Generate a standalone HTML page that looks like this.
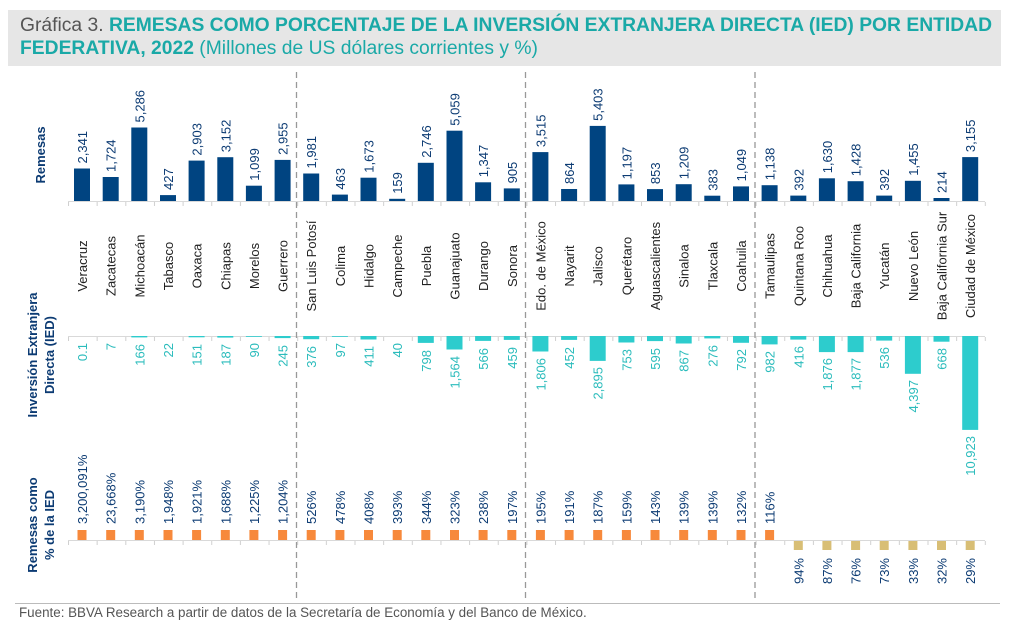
<!DOCTYPE html>
<html><head><meta charset="utf-8"><style>
body{margin:0;background:#fff;width:1024px;height:631px;overflow:hidden;font-family:"Liberation Sans",Arial,sans-serif}
.t{position:absolute;left:8px;top:10px;width:993px;height:56px;background:#e6e6e6}
.t div{position:absolute;left:12px;font-size:19.3px;line-height:22px;white-space:nowrap}
.g{color:#555}.c{color:#1aa9a7;font-weight:bold}.cl{color:#1aa9a7}
.foot{position:absolute;left:19px;top:605px;font-size:13.4px;color:#555}
svg{position:absolute;left:0;top:0}
.v{font-size:13px;fill:#0c3b73}
.n{font-size:13px;fill:#222}
.i{font-size:13px;fill:#2bbcbc}
.p{font-size:13px;fill:#0c3b73}
.ax{font-size:13px;fill:#0c3b73;font-weight:bold}
</style></head><body>
<div class="t">
<div style="top:5px"><span class="g">Gráfica 3. </span><span class="c">REMESAS COMO PORCENTAJE DE LA INVERSIÓN EXTRANJERA DIRECTA (IED) POR ENTIDAD</span></div>
<div style="top:28px"><span class="c">FEDERATIVA, 2022 </span><span class="cl">(Millones de US dólares corrientes y %)</span></div>
</div>
<svg width="1024" height="631">
<defs>
<pattern id="tk" x="68" y="0" width="28.65" height="631" patternUnits="userSpaceOnUse"><rect x="0" y="0" width="1" height="631" fill="#d0d0d0"/></pattern>
</defs>
<g stroke="#d9d9d9" stroke-width="1">
<line x1="68" y1="201.5" x2="985" y2="201.5"/>
<line x1="68" y1="336.5" x2="985" y2="336.5"/>
<line x1="68" y1="540.5" x2="985" y2="540.5"/>
<line x1="15" y1="603.5" x2="1000" y2="603.5" stroke="#bbb"/>
</g>
<rect x="67" y="202" width="920" height="4" fill="url(#tk)"/>
<rect x="67" y="337" width="920" height="4" fill="url(#tk)"/>
<rect x="67" y="541" width="920" height="4" fill="url(#tk)"/>
<g stroke="#999" stroke-width="1.3" stroke-dasharray="6,4">
<line x1="296.5" y1="72" x2="296.5" y2="600"/>
<line x1="525.5" y1="72" x2="525.5" y2="600"/>
<line x1="755" y1="72" x2="755" y2="600"/>
</g>
<text class="ax" transform="translate(45,155) rotate(-90)" text-anchor="middle">Remesas</text>
<text class="ax" transform="translate(37,355) rotate(-90)" text-anchor="middle">Inversión Extranjera</text>
<text class="ax" transform="translate(54,355) rotate(-90)" text-anchor="middle">Directa (IED)</text>
<text class="ax" transform="translate(37,525) rotate(-90)" text-anchor="middle">Remesas como</text>
<text class="ax" transform="translate(54,525) rotate(-90)" text-anchor="middle">% de la IED</text>

<g fill="#004481">
<rect x="74" y="168.5" width="16" height="32.5"/>
<rect x="102.7" y="177" width="16" height="24"/>
<rect x="131.3" y="127.5" width="16" height="73.5"/>
<rect x="160" y="195.1" width="16" height="5.9"/>
<rect x="188.6" y="160.6" width="16" height="40.4"/>
<rect x="217.3" y="157.2" width="16" height="43.8"/>
<rect x="245.9" y="185.7" width="16" height="15.3"/>
<rect x="274.6" y="159.9" width="16" height="41.1"/>
<rect x="303.2" y="173.5" width="16" height="27.5"/>
<rect x="331.9" y="194.6" width="16" height="6.4"/>
<rect x="360.5" y="177.7" width="16" height="23.3"/>
<rect x="389.2" y="198.8" width="16" height="2.2"/>
<rect x="417.8" y="162.8" width="16" height="38.2"/>
<rect x="446.5" y="130.7" width="16" height="70.3"/>
<rect x="475.1" y="182.3" width="16" height="18.7"/>
<rect x="503.8" y="188.4" width="16" height="12.6"/>
<rect x="532.4" y="152.1" width="16" height="48.9"/>
<rect x="561.1" y="189" width="16" height="12"/>
<rect x="589.7" y="125.9" width="16" height="75.1"/>
<rect x="618.4" y="184.4" width="16" height="16.6"/>
<rect x="647" y="189.1" width="16" height="11.9"/>
<rect x="675.7" y="184.2" width="16" height="16.8"/>
<rect x="704.3" y="195.7" width="16" height="5.3"/>
<rect x="733" y="186.4" width="16" height="14.6"/>
<rect x="761.6" y="185.2" width="16" height="15.8"/>
<rect x="790.3" y="195.6" width="16" height="5.4"/>
<rect x="818.9" y="178.3" width="16" height="22.7"/>
<rect x="847.6" y="181.2" width="16" height="19.8"/>
<rect x="876.2" y="195.6" width="16" height="5.4"/>
<rect x="904.9" y="180.8" width="16" height="20.2"/>
<rect x="933.5" y="198" width="16" height="3"/>
<rect x="962.2" y="157.1" width="16" height="43.9"/>
</g>
<g class="v">
<text transform="translate(87,163.5) rotate(-90)">2,341</text>
<text transform="translate(115.7,172) rotate(-90)">1,724</text>
<text transform="translate(144.3,122.5) rotate(-90)">5,286</text>
<text transform="translate(173,190) rotate(-90)">427</text>
<text transform="translate(201.6,155.6) rotate(-90)">2,903</text>
<text transform="translate(230.3,152.2) rotate(-90)">3,152</text>
<text transform="translate(258.9,180.7) rotate(-90)">1,099</text>
<text transform="translate(287.6,154.9) rotate(-90)">2,955</text>
<text transform="translate(316.2,168.5) rotate(-90)">1,981</text>
<text transform="translate(344.9,189.6) rotate(-90)">463</text>
<text transform="translate(373.5,172.7) rotate(-90)">1,673</text>
<text transform="translate(402.2,193.8) rotate(-90)">159</text>
<text transform="translate(430.8,157.8) rotate(-90)">2,746</text>
<text transform="translate(459.5,125.7) rotate(-90)">5,059</text>
<text transform="translate(488.1,177.3) rotate(-90)">1,347</text>
<text transform="translate(516.8,183.4) rotate(-90)">905</text>
<text transform="translate(545.4,147.1) rotate(-90)">3,515</text>
<text transform="translate(574.1,184) rotate(-90)">864</text>
<text transform="translate(602.7,120.9) rotate(-90)">5,403</text>
<text transform="translate(631.4,179.4) rotate(-90)">1,197</text>
<text transform="translate(660,184.1) rotate(-90)">853</text>
<text transform="translate(688.7,179.2) rotate(-90)">1,209</text>
<text transform="translate(717.3,190.7) rotate(-90)">383</text>
<text transform="translate(746,181.4) rotate(-90)">1,049</text>
<text transform="translate(774.6,180.2) rotate(-90)">1,138</text>
<text transform="translate(803.3,190.6) rotate(-90)">392</text>
<text transform="translate(831.9,173.3) rotate(-90)">1,630</text>
<text transform="translate(860.6,176.2) rotate(-90)">1,428</text>
<text transform="translate(889.2,190.6) rotate(-90)">392</text>
<text transform="translate(917.9,175.8) rotate(-90)">1,455</text>
<text transform="translate(946.5,193) rotate(-90)">214</text>
<text transform="translate(975.2,152.1) rotate(-90)">3,155</text>
</g>
<g class="n" text-anchor="middle">
<text transform="translate(87,266) rotate(-90)">Veracruz</text>
<text transform="translate(115.7,266) rotate(-90)">Zacatecas</text>
<text transform="translate(144.3,266) rotate(-90)">Michoacán</text>
<text transform="translate(173,266) rotate(-90)">Tabasco</text>
<text transform="translate(201.6,266) rotate(-90)">Oaxaca</text>
<text transform="translate(230.3,266) rotate(-90)">Chiapas</text>
<text transform="translate(258.9,266) rotate(-90)">Morelos</text>
<text transform="translate(287.6,266) rotate(-90)">Guerrero</text>
<text transform="translate(316.2,266) rotate(-90)">San Luis Potosí</text>
<text transform="translate(344.9,266) rotate(-90)">Colima</text>
<text transform="translate(373.5,266) rotate(-90)">Hidalgo</text>
<text transform="translate(402.2,266) rotate(-90)">Campeche</text>
<text transform="translate(430.8,266) rotate(-90)">Puebla</text>
<text transform="translate(459.5,266) rotate(-90)">Guanajuato</text>
<text transform="translate(488.1,266) rotate(-90)">Durango</text>
<text transform="translate(516.8,266) rotate(-90)">Sonora</text>
<text transform="translate(545.4,266) rotate(-90)">Edo. de México</text>
<text transform="translate(574.1,266) rotate(-90)">Nayarit</text>
<text transform="translate(602.7,266) rotate(-90)">Jalisco</text>
<text transform="translate(631.4,266) rotate(-90)">Querétaro</text>
<text transform="translate(660,266) rotate(-90)">Aguascalientes</text>
<text transform="translate(688.7,266) rotate(-90)">Sinaloa</text>
<text transform="translate(717.3,266) rotate(-90)">Tlaxcala</text>
<text transform="translate(746,266) rotate(-90)">Coahuila</text>
<text transform="translate(774.6,266) rotate(-90)">Tamaulipas</text>
<text transform="translate(803.3,266) rotate(-90)">Quintana Roo</text>
<text transform="translate(831.9,266) rotate(-90)">Chihuahua</text>
<text transform="translate(860.6,266) rotate(-90)">Baja California</text>
<text transform="translate(889.2,266) rotate(-90)">Yucatán</text>
<text transform="translate(917.9,266) rotate(-90)">Nuevo León</text>
<text transform="translate(946.5,266) rotate(-90)">Baja California Sur</text>
<text transform="translate(975.2,266) rotate(-90)">Ciudad de México</text>
</g>
<g fill="#2dcccd">
<rect x="131.3" y="336" width="16" height="1.4"/>
<rect x="188.6" y="336" width="16" height="1.3"/>
<rect x="217.3" y="336" width="16" height="1.6"/>
<rect x="245.9" y="336" width="16" height="0.8"/>
<rect x="274.6" y="336" width="16" height="2.1"/>
<rect x="303.2" y="336" width="16" height="3.2"/>
<rect x="331.9" y="336" width="16" height="0.8"/>
<rect x="360.5" y="336" width="16" height="3.5"/>
<rect x="417.8" y="336" width="16" height="6.9"/>
<rect x="446.5" y="336" width="16" height="13.5"/>
<rect x="475.1" y="336" width="16" height="4.9"/>
<rect x="503.8" y="336" width="16" height="3.9"/>
<rect x="532.4" y="336" width="16" height="15.5"/>
<rect x="561.1" y="336" width="16" height="3.9"/>
<rect x="589.7" y="336" width="16" height="24.9"/>
<rect x="618.4" y="336" width="16" height="6.5"/>
<rect x="647" y="336" width="16" height="5.1"/>
<rect x="675.7" y="336" width="16" height="7.5"/>
<rect x="704.3" y="336" width="16" height="2.4"/>
<rect x="733" y="336" width="16" height="6.8"/>
<rect x="761.6" y="336" width="16" height="8.4"/>
<rect x="790.3" y="336" width="16" height="3.6"/>
<rect x="818.9" y="336" width="16" height="16.1"/>
<rect x="847.6" y="336" width="16" height="16.1"/>
<rect x="876.2" y="336" width="16" height="4.6"/>
<rect x="904.9" y="336" width="16" height="37.8"/>
<rect x="933.5" y="336" width="16" height="5.7"/>
<rect x="962.2" y="336" width="16" height="93.9"/>
</g>
<g class="i" text-anchor="end">
<text transform="translate(87,343) rotate(-90)">0.1</text>
<text transform="translate(115.7,343) rotate(-90)">7</text>
<text transform="translate(144.3,344) rotate(-90)">166</text>
<text transform="translate(173,343) rotate(-90)">22</text>
<text transform="translate(201.6,344) rotate(-90)">151</text>
<text transform="translate(230.3,344) rotate(-90)">187</text>
<text transform="translate(258.9,343) rotate(-90)">90</text>
<text transform="translate(287.6,345) rotate(-90)">245</text>
<text transform="translate(316.2,346) rotate(-90)">376</text>
<text transform="translate(344.9,343) rotate(-90)">97</text>
<text transform="translate(373.5,346) rotate(-90)">411</text>
<text transform="translate(402.2,343) rotate(-90)">40</text>
<text transform="translate(430.8,350) rotate(-90)">798</text>
<text transform="translate(459.5,356) rotate(-90)">1,564</text>
<text transform="translate(488.1,348) rotate(-90)">566</text>
<text transform="translate(516.8,347) rotate(-90)">459</text>
<text transform="translate(545.4,358) rotate(-90)">1,806</text>
<text transform="translate(574.1,347) rotate(-90)">452</text>
<text transform="translate(602.7,367) rotate(-90)">2,895</text>
<text transform="translate(631.4,349) rotate(-90)">753</text>
<text transform="translate(660,348) rotate(-90)">595</text>
<text transform="translate(688.7,350) rotate(-90)">867</text>
<text transform="translate(717.3,345) rotate(-90)">276</text>
<text transform="translate(746,349) rotate(-90)">792</text>
<text transform="translate(774.6,351) rotate(-90)">982</text>
<text transform="translate(803.3,346) rotate(-90)">416</text>
<text transform="translate(831.9,358) rotate(-90)">1,876</text>
<text transform="translate(860.6,358) rotate(-90)">1,877</text>
<text transform="translate(889.2,347) rotate(-90)">536</text>
<text transform="translate(917.9,380) rotate(-90)">4,397</text>
<text transform="translate(946.5,348) rotate(-90)">668</text>
<text transform="translate(975.2,436) rotate(-90)">10,923</text>
</g>
<g fill="#f7893b">
<rect x="77.5" y="530" width="9" height="10"/><rect x="106.2" y="530" width="9" height="10"/><rect x="134.8" y="530" width="9" height="10"/><rect x="163.5" y="530" width="9" height="10"/><rect x="192.1" y="530" width="9" height="10"/><rect x="220.8" y="530" width="9" height="10"/><rect x="249.4" y="530" width="9" height="10"/><rect x="278.1" y="530" width="9" height="10"/><rect x="306.7" y="530" width="9" height="10"/><rect x="335.4" y="530" width="9" height="10"/><rect x="364" y="530" width="9" height="10"/><rect x="392.7" y="530" width="9" height="10"/><rect x="421.3" y="530" width="9" height="10"/><rect x="450" y="530" width="9" height="10"/><rect x="478.6" y="530" width="9" height="10"/><rect x="507.3" y="530" width="9" height="10"/><rect x="535.9" y="530" width="9" height="10"/><rect x="564.6" y="530" width="9" height="10"/><rect x="593.2" y="530" width="9" height="10"/><rect x="621.9" y="530" width="9" height="10"/><rect x="650.5" y="530" width="9" height="10"/><rect x="679.2" y="530" width="9" height="10"/><rect x="707.8" y="530" width="9" height="10"/><rect x="736.5" y="530" width="9" height="10"/><rect x="765.1" y="530" width="9" height="10"/>
</g>
<g fill="#d8be75">
<rect x="793.8" y="541" width="9" height="9"/><rect x="822.4" y="541" width="9" height="9"/><rect x="851.1" y="541" width="9" height="9"/><rect x="879.7" y="541" width="9" height="9"/><rect x="908.4" y="541" width="9" height="9"/><rect x="937" y="541" width="9" height="9"/><rect x="965.7" y="541" width="9" height="9"/>
</g>
<g class="p">
<text transform="translate(87,524) rotate(-90)">3,200,091%</text>
<text transform="translate(115.7,524) rotate(-90)">23,668%</text>
<text transform="translate(144.3,524) rotate(-90)">3,190%</text>
<text transform="translate(173,524) rotate(-90)">1,948%</text>
<text transform="translate(201.6,524) rotate(-90)">1,921%</text>
<text transform="translate(230.3,524) rotate(-90)">1,688%</text>
<text transform="translate(258.9,524) rotate(-90)">1,225%</text>
<text transform="translate(287.6,524) rotate(-90)">1,204%</text>
<text transform="translate(316.2,524) rotate(-90)">526%</text>
<text transform="translate(344.9,524) rotate(-90)">478%</text>
<text transform="translate(373.5,524) rotate(-90)">408%</text>
<text transform="translate(402.2,524) rotate(-90)">393%</text>
<text transform="translate(430.8,524) rotate(-90)">344%</text>
<text transform="translate(459.5,524) rotate(-90)">323%</text>
<text transform="translate(488.1,524) rotate(-90)">238%</text>
<text transform="translate(516.8,524) rotate(-90)">197%</text>
<text transform="translate(545.4,524) rotate(-90)">195%</text>
<text transform="translate(574.1,524) rotate(-90)">191%</text>
<text transform="translate(602.7,524) rotate(-90)">187%</text>
<text transform="translate(631.4,524) rotate(-90)">159%</text>
<text transform="translate(660,524) rotate(-90)">143%</text>
<text transform="translate(688.7,524) rotate(-90)">139%</text>
<text transform="translate(717.3,524) rotate(-90)">139%</text>
<text transform="translate(746,524) rotate(-90)">132%</text>
<text transform="translate(774.6,524) rotate(-90)">116%</text>
</g>
<g class="p" text-anchor="end">
<text transform="translate(803.3,558) rotate(-90)">94%</text>
<text transform="translate(831.9,558) rotate(-90)">87%</text>
<text transform="translate(860.6,558) rotate(-90)">76%</text>
<text transform="translate(889.2,558) rotate(-90)">73%</text>
<text transform="translate(917.9,558) rotate(-90)">33%</text>
<text transform="translate(946.5,558) rotate(-90)">32%</text>
<text transform="translate(975.2,558) rotate(-90)">29%</text>
</g>
</svg>
<div class="foot">Fuente: BBVA Research a partir de datos de la Secretaría de Economía y del Banco de México.</div>
</body></html>
